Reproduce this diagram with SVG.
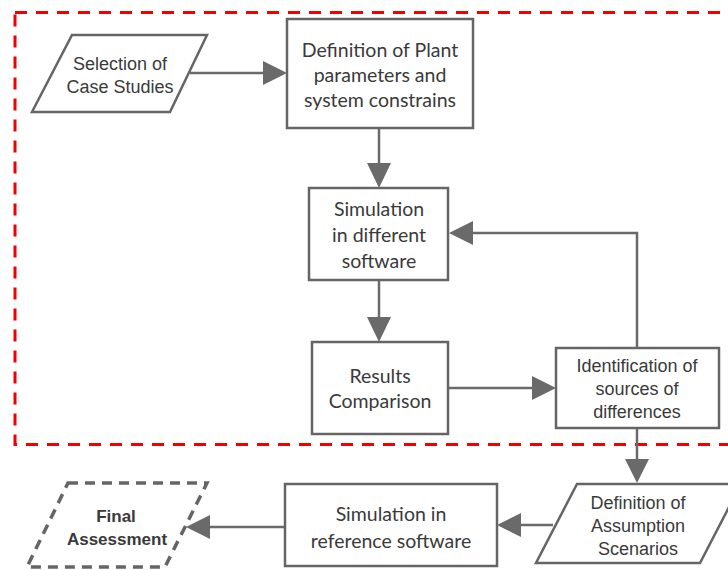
<svg xmlns="http://www.w3.org/2000/svg" width="728" height="570" viewBox="0 0 728 570">
<style>
  .box { fill: #fff; stroke: #656565; stroke-width: 2.5; }
  .dash { fill: #fff; stroke: #656565; stroke-width: 3.5; stroke-dasharray: 10 7; }
  .cal { font-family: Lato, "Open Sans", sans-serif; font-size: 19.5px; fill: #3a3a3a; text-anchor: middle; }
  .ari { font-family: "Liberation Sans", Arial, sans-serif; font-size: 18px; fill: #3a3a3a; text-anchor: middle; }
  .bold { font-family: "Liberation Sans", Arial, sans-serif; font-size: 17px; font-weight: bold; fill: #3a3a3a; text-anchor: middle; }
  .line { fill: none; stroke: #6a6a6a; stroke-width: 2.5; }
  .head { fill: #6a6a6a; }
</style>
<rect width="728" height="570" fill="#fff"/>
<rect id="region" x="15" y="12.5" width="730" height="432" fill="none" stroke="#f00000" stroke-width="3" stroke-dasharray="12 9"/>
<g id="connectors">
  <line class="line" x1="190" y1="73" x2="265" y2="73"/>
  <polygon class="head" points="287,73 263,61 263,85"/>
  <line class="line" x1="379" y1="128" x2="379" y2="165"/>
  <polygon class="head" points="379,188 367,163 391,163"/>
  <line class="line" x1="379" y1="280" x2="379" y2="320"/>
  <polygon class="head" points="379,342 367,317 391,317"/>
  <line class="line" x1="448" y1="388" x2="534" y2="388"/>
  <polygon class="head" points="556,388 532,376 532,400"/>
  <polyline class="line" points="637,348 637,233 471,233"/>
  <polygon class="head" points="449,233 473,221 473,245"/>
  <line class="line" x1="637" y1="428" x2="637" y2="462"/>
  <polygon class="head" points="637,483 625,459 649,459"/>
  <line class="line" x1="553" y1="525" x2="518" y2="525"/>
  <polygon class="head" points="497,525 521,513 521,537"/>
  <line class="line" x1="285" y1="527" x2="208" y2="527"/>
  <polygon class="head" points="186,527 210,515 210,539"/>
</g>
<g id="selection">
  <polygon class="box" points="72,35 207,35 170,112 32,112"/>
  <text class="ari" x="120" y="70">Selection of</text>
  <text class="ari" x="120" y="93">Case Studies</text>
</g>
<g id="plant">
  <rect class="box" x="287" y="19" width="186" height="109"/>
  <text class="cal" x="380" y="57">Definition of Plant</text>
  <text class="cal" x="380" y="82">parameters and</text>
  <text class="cal" x="380" y="107">system constrains</text>
</g>
<g id="simulation">
  <rect class="box" x="309" y="188" width="139" height="92"/>
  <text class="cal" x="379" y="216">Simulation</text>
  <text class="cal" x="379" y="242">in different</text>
  <text class="cal" x="379" y="268">software</text>
</g>
<g id="results">
  <rect class="box" x="312" y="342" width="136" height="92"/>
  <text class="cal" x="380" y="383">Results</text>
  <text class="cal" x="380" y="408">Comparison</text>
</g>
<g id="identification">
  <rect class="box" x="556" y="348" width="163" height="80"/>
  <text class="ari" x="637" y="372">Identification of</text>
  <text class="ari" x="637" y="395">sources of</text>
  <text class="ari" x="637" y="418">differences</text>
</g>
<g id="assumption">
  <polygon class="box" points="577,484 741,484 700,563 536,563"/>
  <text class="ari" x="638" y="509">Definition of</text>
  <text class="ari" x="638" y="532">Assumption</text>
  <text class="ari" x="638" y="555">Scenarios</text>
</g>
<g id="reference">
  <rect class="box" x="285" y="484" width="212" height="82"/>
  <text class="cal" x="391" y="521">Simulation in</text>
  <text class="cal" x="391" y="548">reference software</text>
</g>
<g id="final">
  <polygon class="dash" points="68,483 207,483 165,567 27,567"/>
  <text class="bold" x="116" y="522">Final</text>
  <text class="bold" x="117" y="545">Assessment</text>
</g>
</svg>
